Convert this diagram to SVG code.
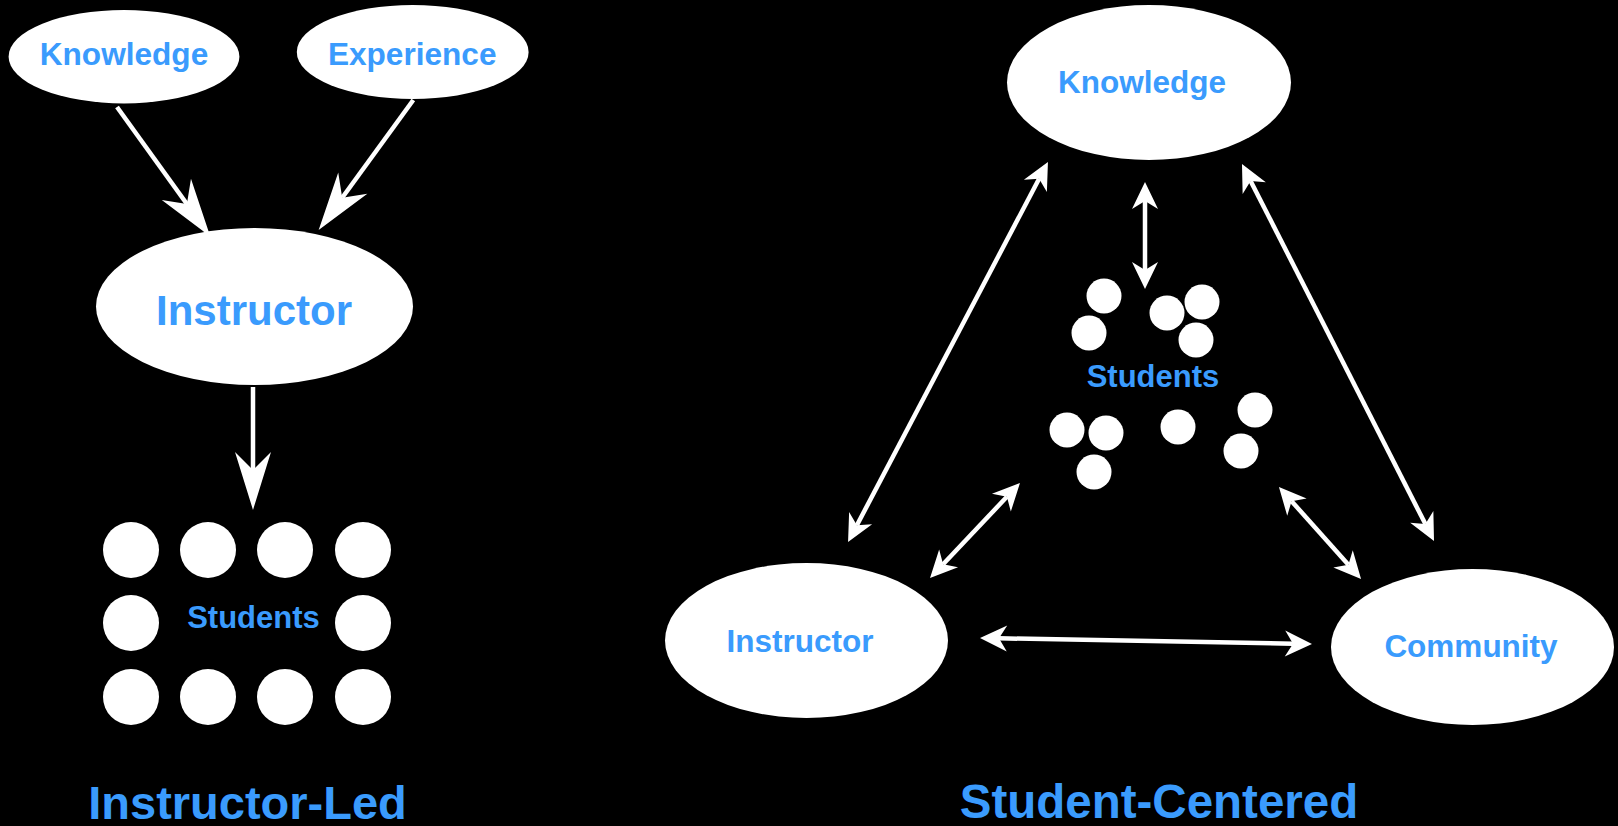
<svg xmlns="http://www.w3.org/2000/svg" width="1618" height="826" viewBox="0 0 1618 826">
  <style>
    .node { fill: #ffffff; }
    .label { fill: #3a9bfd; font-family: "Liberation Sans", Arial, Helvetica, sans-serif; font-weight: bold; text-anchor: middle; }
    .big { stroke: #ffffff; stroke-width: 4.5; fill: none; marker-end: url(#bigHead); }
    .dbl { stroke: #ffffff; stroke-width: 4.5; fill: none; marker-start: url(#smallHead); marker-end: url(#smallHead); }
  </style>
  <defs>
    <!-- barbed head, origin at the notch, tip along +x -->
    <marker id="bigHead" markerUnits="userSpaceOnUse" orient="auto" refX="0" refY="0" markerWidth="80" markerHeight="80" overflow="visible">
      <path d="M40,0 L-18,-18 L0,0 L-18,18 Z" fill="#ffffff"/>
    </marker>
    <marker id="smallHead" markerUnits="userSpaceOnUse" orient="auto-start-reverse" refX="0" refY="0" markerWidth="40" markerHeight="40" overflow="visible">
      <path d="M19,0 L-8,-13 L0,0 L-8,13 Z" fill="#ffffff"/>
    </marker>
  </defs>

  <rect x="0" y="0" width="1618" height="826" fill="#000000"/>

  <!-- connectors -->
  <g id="connectors">
    <line class="big" x1="117" y1="107" x2="186.9" y2="204"/>
    <line class="big" x1="413.3" y1="100" x2="342.2" y2="197.7"/>
    <line class="big" x1="253" y1="387" x2="253" y2="470"/>

    <line class="dbl" x1="1039.1" y1="178.8" x2="856.9" y2="525.2"/>
    <line class="dbl" x1="1145" y1="201" x2="1145" y2="270"/>
    <line class="dbl" x1="1250.6" y1="180.9" x2="1425.4" y2="524.1"/>
    <line class="dbl" x1="943.1" y1="564.2" x2="1006.9" y2="496.8"/>
    <line class="dbl" x1="1291.6" y1="501.2" x2="1348.4" y2="564.8"/>
    <line class="dbl" x1="999" y1="638.3" x2="1293" y2="643.7"/>
  </g>

  <!-- instructor-led model -->
  <g id="il-knowledge">
    <ellipse class="node" cx="124" cy="56.7" rx="115.4" ry="46.7"/>
    <text class="label" x="124" y="65" font-size="31.6">Knowledge</text>
  </g>
  <g id="il-experience">
    <ellipse class="node" cx="412.7" cy="52" rx="115.9" ry="47"/>
    <text class="label" x="412.2" y="65" font-size="31.6">Experience</text>
  </g>
  <g id="il-instructor">
    <ellipse class="node" cx="254.5" cy="306.5" rx="158.5" ry="78.5"/>
    <text class="label" x="254" y="325" font-size="42">Instructor</text>
  </g>
  <g id="il-students">
    <g class="node">
      <circle cx="131" cy="550" r="28"/>
      <circle cx="208" cy="550" r="28"/>
      <circle cx="285" cy="550" r="28"/>
      <circle cx="363" cy="550" r="28"/>
      <circle cx="131" cy="623" r="28"/>
      <circle cx="363" cy="623" r="28"/>
      <circle cx="131" cy="697" r="28"/>
      <circle cx="208" cy="697" r="28"/>
      <circle cx="285" cy="697" r="28"/>
      <circle cx="363" cy="697" r="28"/>
    </g>
    <text class="label" x="253.5" y="628" font-size="31">Students</text>
  </g>
  <g id="il-title">
    <text class="label" x="247.5" y="819" font-size="47">Instructor-Led</text>
  </g>

  <!-- student-centered model -->
  <g id="sc-knowledge">
    <ellipse class="node" cx="1149" cy="82.5" rx="142" ry="77.5"/>
    <text class="label" x="1142" y="93" font-size="31.5">Knowledge</text>
  </g>
  <g id="sc-instructor">
    <ellipse class="node" cx="806.5" cy="640.5" rx="141.5" ry="77.5"/>
    <text class="label" x="800" y="652" font-size="31.5">Instructor</text>
  </g>
  <g id="sc-community">
    <ellipse class="node" cx="1472.5" cy="647" rx="141.5" ry="78"/>
    <text class="label" x="1471" y="657" font-size="31.5">Community</text>
  </g>
  <g id="sc-students">
    <g class="node">
      <circle cx="1104" cy="296" r="17.5"/>
      <circle cx="1089" cy="333" r="17.5"/>
      <circle cx="1167" cy="313" r="17.5"/>
      <circle cx="1202" cy="302" r="17.5"/>
      <circle cx="1196" cy="340" r="17.5"/>
      <circle cx="1067" cy="430" r="17.5"/>
      <circle cx="1106" cy="433" r="17.5"/>
      <circle cx="1094" cy="472" r="17.5"/>
      <circle cx="1178" cy="427" r="17.5"/>
      <circle cx="1255" cy="410" r="17.5"/>
      <circle cx="1241" cy="451" r="17.5"/>
    </g>
    <text class="label" x="1153" y="387" font-size="31">Students</text>
  </g>
  <g id="sc-title">
    <text class="label" x="1159" y="818" font-size="47.5">Student-Centered</text>
  </g>
</svg>
